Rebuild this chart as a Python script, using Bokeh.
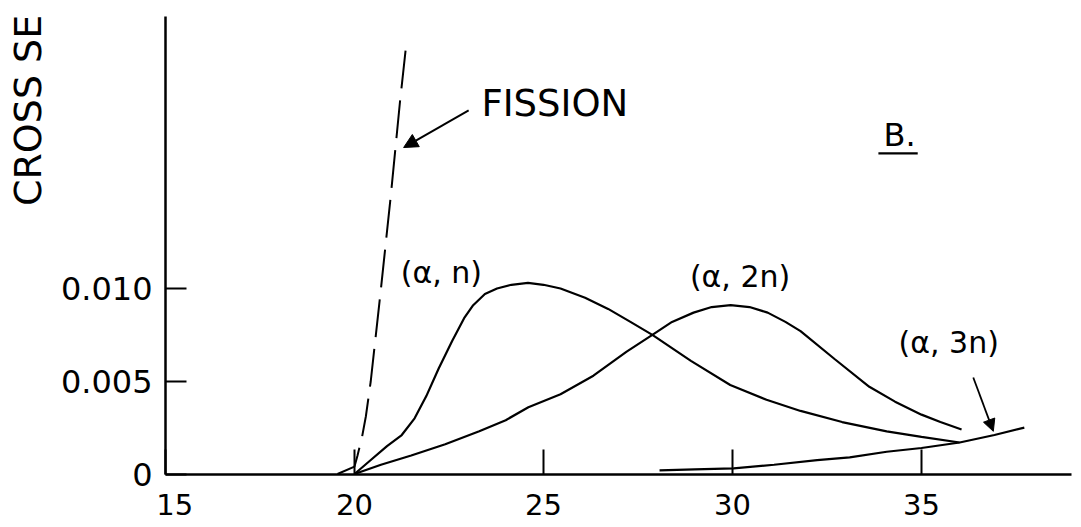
import math
from bokeh.plotting import figure
from bokeh.models import Arrow, NormalHead, Label, FixedTicker, Range1d
from bokeh.embed import file_html
from bokeh.resources import INLINE

# ---- data ----
an_energy = [20.0, 20.4, 20.86, 21.25, 21.59, 21.9, 22.23, 22.59, 22.9, 23.14, 23.45, 23.77,
             24.15, 24.59, 25.0, 25.45, 26.1, 26.71, 27.3, 27.88, 28.9, 29.94, 30.9, 31.8,
             32.9, 34.08, 35.0, 36.01]
an_sigma = [0.0, 0.0007, 0.0015, 0.0021, 0.0030, 0.0042, 0.0057, 0.0072, 0.0084, 0.0091, 0.0097,
            0.0100, 0.0102, 0.0103, 0.0102, 0.0100, 0.0095, 0.0089, 0.0082, 0.0075, 0.0061,
            0.0048, 0.0040, 0.0034, 0.0028, 0.0023, 0.0020, 0.0017]

a2n_energy = [20.0, 20.7, 21.5, 22.4, 23.3, 24.0, 24.6, 25.45, 26.32, 27.2, 27.88, 28.4, 28.97,
              29.45, 29.95, 30.45, 30.93, 31.4, 31.8, 32.7, 33.62, 34.3, 35.0, 35.5, 36.06]
a2n_sigma = [0.0, 0.0005, 0.0010, 0.0016, 0.0023, 0.0029, 0.0036, 0.0043, 0.0053, 0.0066,
             0.0075, 0.0082, 0.0087, 0.0090, 0.0091, 0.0090, 0.0087, 0.0082, 0.0077, 0.0062,
             0.0047, 0.0039, 0.0032, 0.0028, 0.0024]

a3n_energy = [28.07, 29.0, 30.03, 31.1, 32.24, 33.1, 34.08, 35.0, 36.01, 36.93, 37.72]
a3n_sigma = [0.0002, 0.00025, 0.0003, 0.0005, 0.00075, 0.0009, 0.0012, 0.0014, 0.0017,
             0.0021, 0.0025]

fission_energy = [19.55, 20.0, 20.08, 20.2, 20.3, 20.43, 20.7, 20.96, 21.2, 21.36]
fission_sigma = [0.0, 0.0004, 0.001, 0.002, 0.0031, 0.005, 0.010, 0.015, 0.020, 0.023]

x_ticks = [15, 20, 25, 30, 35]
x_tick_labels = ["\u200715", "20", "25", "30", "35"]
y_ticks = [0, 0.005, 0.01]
y_tick_labels = ["0", "0.005", "0.010"]

y_title = "CROSS SE"
series_labels = ["(α, n)", "(α, 2n)", "(α, 3n)", "FISSION"]
panel_label = "B."

FONT = "DejaVu Sans"
X_MIN, X_MAX = 15, 38.97
Y_TOP = 0.02464

p = figure(frame_width=1075, frame_height=525,
           min_border_left=0, min_border_right=0, min_border_top=0, min_border_bottom=0,
           x_range=Range1d(10.6349, 39.0741), y_range=Range1d(-0.0027763, 0.025526),
           output_backend="svg", toolbar_location=None, background_fill_color="white",
           border_fill_color="white")
p.outline_line_color = None
p.xgrid.grid_line_color = None
p.ygrid.grid_line_color = None

# axes (drawn at the data origin)
p.xaxis.ticker = FixedTicker(ticks=x_ticks)
p.yaxis.ticker = FixedTicker(ticks=y_ticks)
p.xaxis.major_label_overrides = {t: lab for t, lab in zip(x_ticks, x_tick_labels)}
p.yaxis.major_label_overrides = {t: lab for t, lab in zip(y_ticks, y_tick_labels)}
p.xaxis.fixed_location = 0
p.yaxis.fixed_location = X_MIN
p.xaxis.bounds = (X_MIN, X_MAX)
p.yaxis.bounds = (0, Y_TOP)
for ax in (p.xaxis[0], p.yaxis[0]):
    ax.axis_line_color = "black"
    ax.axis_line_width = 2.5
    ax.major_tick_line_color = "black"
    ax.major_tick_line_width = 2
    ax.major_tick_out = 0
    ax.minor_tick_line_color = None
    ax.major_label_text_font = FONT
    ax.major_label_text_color = "black"
p.xaxis.major_tick_in = 25
p.yaxis.major_tick_in = 21
p.xaxis.major_label_text_font_size = "29px"
p.yaxis.major_label_text_font_size = "32px"
p.xaxis.major_label_standoff = 14
p.yaxis.major_label_standoff = 13

# y title
p.add_layout(Label(x=11.3624, y=0.01960, text=y_title, angle=math.pi / 2,
                   text_align="center", text_baseline="middle", text_font=FONT,
                   text_font_size="38px", text_color="black"))

# curves
p.line(an_energy, an_sigma, line_color="black", line_width=2.2)
p.line(a2n_energy, a2n_sigma, line_color="black", line_width=2.2)
p.line(a3n_energy, a3n_sigma, line_color="black", line_width=2.2)
p.line(fission_energy, fission_sigma, line_color="black", line_width=2, line_dash="38 12")

# curve labels
lab_pos = [(22.3, 0.01085, "30px"), (30.2, 0.01065, "30px"), (35.72, 0.0071, "30px"),
           (25.3, 0.0200, "37px")]
for (lx, ly, fs), txt in zip(lab_pos, series_labels):
    p.add_layout(Label(x=lx, y=ly, text=txt, text_align="center", text_baseline="middle",
                       text_font=FONT, text_font_size=fs, text_color="black"))

p.add_layout(Label(x=34.42, y=0.0183, text=panel_label, text_align="center",
                   text_baseline="middle", text_font=FONT, text_font_size="32px",
                   text_color="black"))
underline_x = [33.86, 34.9]
underline_y = [0.01728, 0.01728]
p.line(underline_x, underline_y, line_color="black", line_width=2.2)

# arrows
p.add_layout(Arrow(end=NormalHead(size=14, fill_color="black", line_color="black"),
                   x_start=23.02, y_start=0.0196, x_end=21.3, y_end=0.0176,
                   line_color="black", line_width=2))
p.add_layout(Arrow(end=NormalHead(size=12, fill_color="black", line_color="black"),
                   x_start=36.37, y_start=0.0052, x_end=36.9, y_end=0.0023,
                   line_color="black", line_width=1.8))

open("out.html", "w").write(file_html(p, INLINE))
